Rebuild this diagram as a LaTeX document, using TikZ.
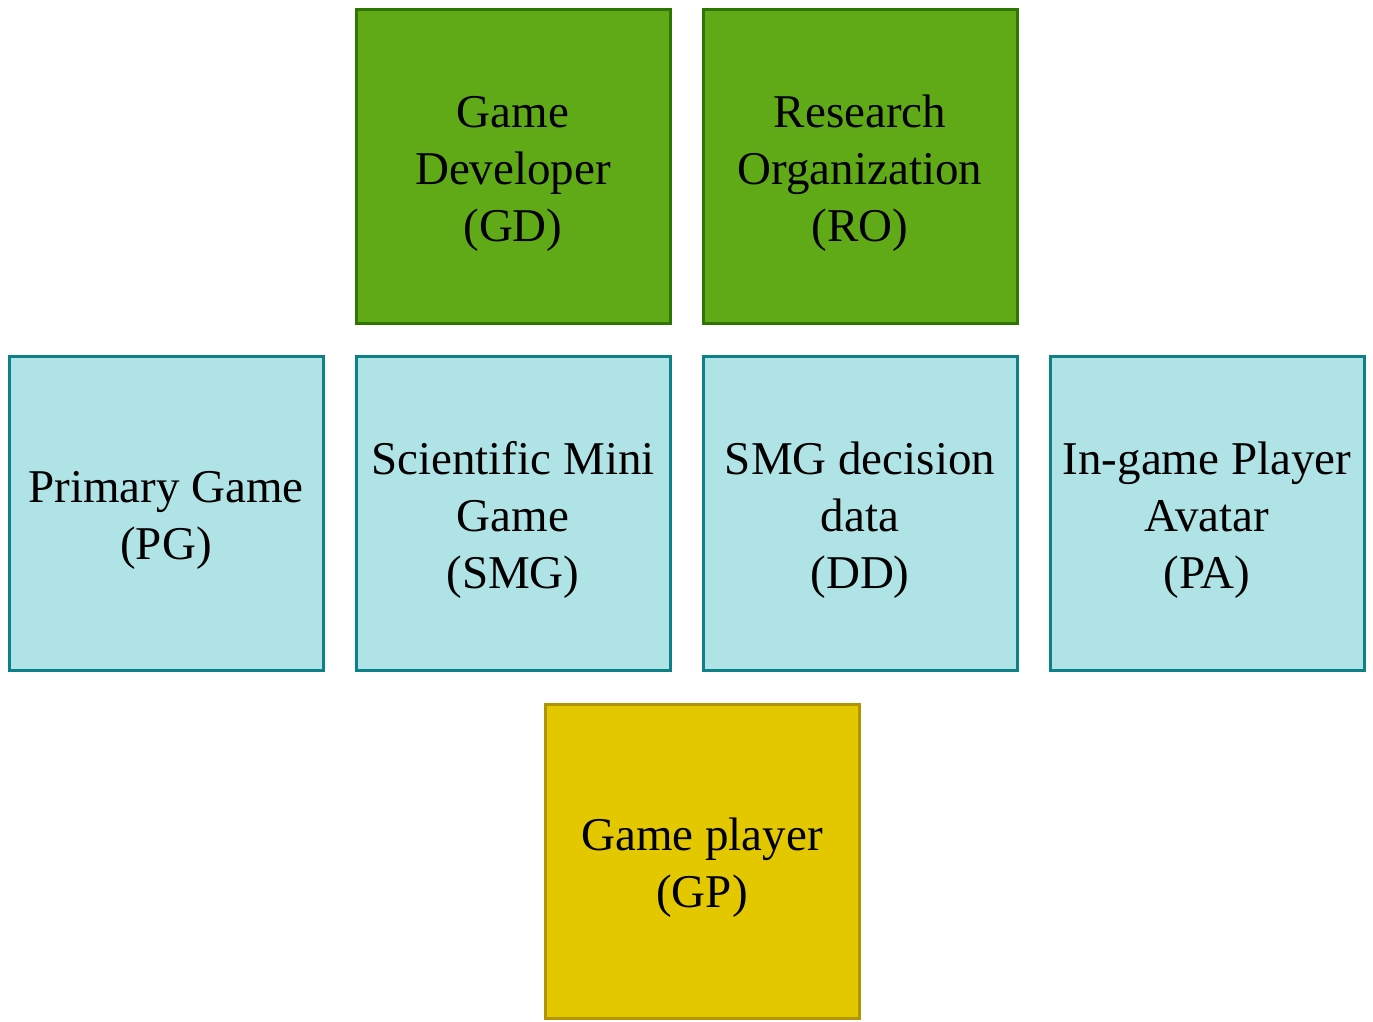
\documentclass[tikz,border=0pt]{standalone}
\usepackage{fontspec}
\setmainfont{Liberation Serif}
\definecolor{gfill}{HTML}{60A917}
\definecolor{gline}{HTML}{2D7600}
\definecolor{cfill}{HTML}{B0E3E6}
\definecolor{cline}{HTML}{0E8088}
\definecolor{yfill}{HTML}{E3C800}
\definecolor{yline}{HTML}{B09500}
\newcommand{\boxlines}[1]{\vbox{\vskip14pt\hbox{\begin{tabular}{@{}c@{}}#1\end{tabular}}}}
\tikzset{
  box/.style={draw, line width=3pt, minimum width=314pt, minimum height=314pt, inner sep=0pt,
    font=\fontsize{47}{57}\selectfont},
  greenbox/.style={box, fill=gfill, draw=gline},
  cyanbox/.style={box, fill=cfill, draw=cline},
  yellowbox/.style={box, fill=yfill, draw=yline}
}
\begin{document}
\begin{tikzpicture}[x=1pt,y=-1pt]
\useasboundingbox[fill=white] (0,0) rectangle (1373,1021);
\node[greenbox] (GD) at (513,166) {\boxlines{Game\\Developer\\(GD)}};
\node[greenbox] (RO) at (860,166) {\boxlines{Research\\Organization\\(RO)}};
\node[cyanbox] (PG) at (166,513) {\boxlines{Primary Game\\(PG)}};
\node[cyanbox] (SMG) at (513,513) {\boxlines{Scientific Mini\\Game\\(SMG)}};
\node[cyanbox] (DD) at (860,513) {\boxlines{SMG decision\\data\\(DD)}};
\node[cyanbox] (PA) at (1207,513) {\boxlines{In-game Player\\Avatar\\(PA)}};
\node[yellowbox] (GP) at (702,861) {\boxlines{Game player\\(GP)}};
\end{tikzpicture}
\end{document}
